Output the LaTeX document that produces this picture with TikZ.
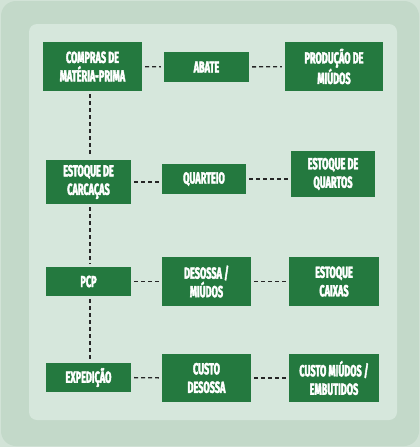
\documentclass[tikz,border=0pt]{standalone}
\usepackage{fontspec}
\newfontfamily\boxfont{Fira Sans Bold}[FakeStretch=0.57, FakeBold=2.5]
\definecolor{cornerbg}{HTML}{D2E3D7}
\definecolor{outerbg}{HTML}{C3D9C9}
\definecolor{innerbg}{HTML}{D6E7DC}
\definecolor{boxgreen}{HTML}{24793F}
\definecolor{dashgray}{HTML}{262626}
\tikzset{
  stagebox/.style={fill=boxgreen, draw=none, text=white, align=center,
    inner sep=0pt, font=\boxfont\fontsize{16}{18.5}\selectfont},
  conn/.style={draw=dashgray, line width=1.4pt, dash pattern=on 4pt off 3pt,
    shorten <=3pt, shorten >=3pt}
}
\begin{document}
\begin{tikzpicture}[x=1pt,y=-1pt]
\useasboundingbox (0,0) rectangle (420,447);
\fill[cornerbg] (0,0) rectangle (420,447);
\fill[outerbg, rounded corners=15pt] (1,1) rectangle (419,446);
\fill[innerbg, rounded corners=8pt] (29,24) rectangle (397,420);

\node[stagebox, minimum width=99pt, minimum height=49pt] (comp) at (92.5,66.5) {COMPRAS DE\\MATÉRIA-PRIMA};
\node[stagebox, minimum width=85pt, minimum height=30pt] (abate) at (206.5,67) {ABATE};
\node[stagebox, minimum width=98pt, minimum height=49pt] (prod) at (334,66.5) {PRODUÇÃO DE\\MIÚDOS};

\node[stagebox, minimum width=85pt, minimum height=44pt] (carc) at (88.5,182) {ESTOQUE DE\\CARCAÇAS};
\node[stagebox, minimum width=84pt, minimum height=30pt] (quart) at (204,179) {QUARTEIO};
\node[stagebox, minimum width=84pt, minimum height=46pt] (eqta) at (333,174) {ESTOQUE DE\\QUARTOS};

\node[stagebox, minimum width=85pt, minimum height=29pt] (pcp) at (88.5,281.5) {PCP};
\node[stagebox, minimum width=89pt, minimum height=49pt] (deso) at (206.5,281.5) {DESOSSA /\\MIÚDOS};
\node[stagebox, minimum width=90pt, minimum height=49pt] (caix) at (334,281.5) {ESTOQUE\\CAIXAS};

\node[stagebox, minimum width=85pt, minimum height=29pt] (expe) at (88.5,377.5) {EXPEDIÇÃO};
\node[stagebox, minimum width=89pt, minimum height=48pt] (cdes) at (206.5,378) {CUSTO\\DESOSSA};
\node[stagebox, minimum width=90pt, minimum height=48pt] (cmiu) at (334,378) {CUSTO MIÚDOS /\\EMBUTIDOS};

% horizontal connectors
\draw[conn] (comp) -- (abate);
\draw[conn] (abate) -- (prod);
\draw[conn] (carc.east) -- (quart.west |- carc.east);
\draw[conn] (quart.east) -- (eqta.west |- quart.east);
\draw[conn] (pcp) -- (deso);
\draw[conn] (deso) -- (caix);
\draw[conn] (expe) -- (cdes);
\draw[conn] (cdes) -- (cmiu);

% vertical connectors
\draw[conn] ([xshift=1.5pt]comp.south -| carc.north) -- ([xshift=1.5pt]carc.north);
\draw[conn] ([xshift=1.5pt]carc.south) -- ([xshift=1.5pt]pcp.north);
\draw[conn] ([xshift=1.5pt]pcp.south) -- ([xshift=1.5pt]expe.north);
\end{tikzpicture}
\end{document}
